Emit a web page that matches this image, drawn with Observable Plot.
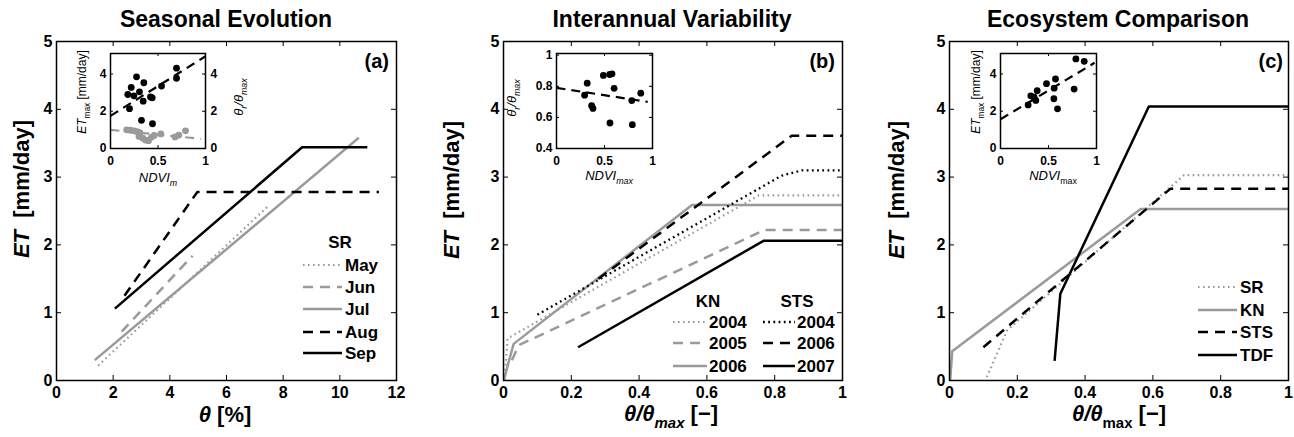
<!DOCTYPE html>
<html><head><meta charset="utf-8">
<script src="https://cdn.jsdelivr.net/npm/d3@7"></script>
<script src="https://cdn.jsdelivr.net/npm/@observablehq/plot@0.6"></script>
<style>
body{margin:0;background:#fff;}
#wrap{position:relative;width:1294px;height:437px;overflow:hidden;background:#fff;}
#wrap svg{position:absolute;overflow:visible;}
</style></head><body><div id="wrap"></div>
<script>
const FONT = '"Liberation Sans", Arial, Helvetica, sans-serif';
const GRAY = "#9a9a9a";
const BLACK = "#000";

// ---------- tick labels ----------
const etTicks = [0, 1, 2, 3, 4, 5];
const thetaTicksA = [0, 2, 4, 6, 8, 10, 12];
const relTicks = [0, 0.2, 0.4, 0.6, 0.8, 1];
const ndviTicks = [0, 0.5, 1];
const insetEtTicks = [0, 2, 4];
const insetRatioTicks = [0.4, 0.6, 0.8, 1];

// ---------- panel (a) Seasonal Evolution (SR) : [theta %, ET mm/day] ----------
const srLabels = ["May", "Jun", "Jul", "Aug", "Sep"];
const srMay = [[1.47, 0.22], [7.44, 2.56]];
const srJun = [[2.3, 0.72], [4.8, 1.84]];
const srJul = [[1.35, 0.30], [10.67, 3.58]];
const srAug = [[2.4, 1.25], [4.97, 2.78], [11.38, 2.78]];
const srSep = [[2.06, 1.06], [8.67, 3.44], [10.97, 3.44]];

// inset (a): NDVIm vs ETmax (black) and theta_r/theta_max (gray)
const insetAEtmax = [[0.274,3.85],[0.218,3.28],[0.351,3.53],[0.182,2.9],[0.305,3.04],[0.246,2.83],[0.421,2.77],[0.439,2.72],[0.344,2.54],[0.2,2.14],[0.537,3.35],[0.695,4.31],[0.695,3.77],[0.326,1.51],[0.442,1.33]];
const insetARatio = [[0.17,1.0],[0.21,0.98],[0.25,0.95],[0.28,0.9],[0.31,0.85],[0.30,0.65],[0.34,0.55],[0.37,0.45],[0.40,0.42],[0.43,0.6],[0.46,0.7],[0.53,0.78],[0.68,0.62],[0.72,0.72],[0.79,0.95]];
const insetAEtFit = [[0, 1.75], [1, 4.95]];
const insetARatioFit = [[0, 1.0], [0.95, 0.52]];

// ---------- panel (b) Interannual Variability : [theta/theta_max, ET] ----------
const kn2004 = [[0.003,0],[0.012,0.62],[0.753,2.73],[1,2.73]];
const kn2005 = [[0.025,0.3],[0.045,0.52],[0.77,2.22],[1,2.22]];
const kn2006 = [[0.002,0.02],[0.015,0.27],[0.03,0.54],[0.556,2.59],[1,2.59]];
const sts2004 = [[0.1,0.97],[0.82,3.02],[0.88,3.1],[1,3.1]];
const sts2006 = [[0.28,1.5],[0.85,3.61],[1,3.61]];
const sts2007 = [[0.22,0.49],[0.767,2.06],[1,2.06]];
const knYears = ["2004", "2005", "2006"];
const stsYears = ["2004", "2006", "2007"];

// inset (b): NDVImax vs theta_r/theta_max
const insetBRatio = [[0.32,0.82],[0.293,0.743],[0.38,0.658],[0.366,0.675],[0.488,0.87],[0.554,0.876],[0.578,0.88],[0.6,0.787],[0.557,0.564],[0.784,0.708],[0.79,0.553],[0.878,0.756]];
const insetBFit = [[0, 0.79], [0.95, 0.70]];

// ---------- panel (c) Ecosystem Comparison ----------
const ecoLabels = ["SR", "KN", "STS", "TDF"];
const ecoSR = [[0.11,0.05],[0.17,0.74],[0.692,3.03],[1,3.03]];
const ecoKN = [[0.002,0],[0.008,0.43],[0.564,2.53],[1,2.53]];
const ecoSTS = [[0.1,0.49],[0.652,2.83],[1,2.83]];
const ecoTDF = [[0.31,0.29],[0.327,1.28],[0.588,4.04],[1,4.04]];

// inset (c): NDVImax vs ETmax
const insetCEtmax = [[0.785,4.81],[0.872,4.68],[0.767,3.19],[0.573,3.73],[0.479,3.48],[0.559,3.24],[0.382,3.1],[0.316,2.83],[0.368,2.58],[0.288,2.34],[0.556,2.67],[0.594,2.13],[0.35,2.75]];
const insetCFit = [[0, 1.57], [0.98, 4.6]];

// ---------- styles ----------
const S = {
  gDot:  {stroke: GRAY, w: 2.2, dash: "1.6,3.4"},
  gDash: {stroke: GRAY, w: 2.5, dash: "10,7"},
  gSol:  {stroke: GRAY, w: 2.5, dash: null},
  kDot:  {stroke: BLACK, w: 2.3, dash: "1.8,3.4"},
  kDash: {stroke: BLACK, w: 2.5, dash: "10,7"},
  kSol:  {stroke: BLACK, w: 2.5, dash: null}
};

const wrap = document.getElementById("wrap");

function addRich(g, x, y, parts, o = {}) {
  const size = o.size || 16;
  const t = g.append("text")
    .attr("transform", `translate(${x},${y})` + (o.rotate ? ` rotate(${o.rotate})` : ""))
    .attr("text-anchor", o.anchor || "start")
    .attr("font-family", FONT)
    .attr("font-size", size)
    .attr("font-weight", o.weight || "bold")
    .attr("fill", o.fill || "#000")
    .attr("style", "white-space:pre");
  let inSub = false;
  for (const p of parts) {
    const ts = t.append("tspan").text(p.t);
    if (p.i) ts.attr("font-style", "italic");
    if (p.sub) {
      ts.attr("font-size", size * 0.68);
      if (!inSub) { ts.attr("dy", size * 0.3); inSub = true; }
    } else if (inSub) { ts.attr("dy", -size * 0.3); inSub = false; }
  }
  return t;
}

function place(svg, left, top) {
  svg.style.left = left + "px";
  svg.style.top = top + "px";
  wrap.appendChild(svg);
  return d3.select(svg).append("g").attr("transform", `translate(${-left},${-top})`);
}

function lineMark(data, st) {
  return Plot.line(data, {x: d => d[0], y: d => d[1], stroke: st.stroke, strokeWidth: st.w, strokeDasharray: st.dash, strokeLinecap: "butt"});
}

function mainPanel(cfg) {
  const H = 437, mT = 41, mB = 57;
  const fw = cfg.width - cfg.mL - cfg.mR, fh = H - mT - mB;
  const plot = Plot.plot({
    width: cfg.width, height: H,
    marginLeft: cfg.mL, marginRight: cfg.mR, marginTop: mT, marginBottom: mB,
    x: {domain: cfg.xDomain}, y: {domain: [0, 5]},
    style: {fontFamily: FONT, background: "transparent", color: "#000", overflow: "visible"},
    marks: [
      ...cfg.series.map(s => lineMark(s.data, s.st)),
      Plot.tickX(cfg.xTicks, {x: d => d, insetTop: fh - 5, stroke: BLACK}),
      Plot.tickX(cfg.xTicks, {x: d => d, insetBottom: fh - 5, stroke: BLACK}),
      Plot.tickY(etTicks, {y: d => d, insetRight: fw - 5, stroke: BLACK}),
      Plot.tickY(etTicks, {y: d => d, insetLeft: fw - 5, stroke: BLACK}),
      Plot.axisX({ticks: cfg.xTicks, tickSize: 0, tickPadding: 6, fontSize: 16, fontWeight: "bold", tickFormat: d => String(d), label: null}),
      Plot.axisY({ticks: etTicks, tickSize: 0, tickPadding: 4, fontSize: 16, fontWeight: "bold", tickFormat: d => String(d), label: null}),
      Plot.frame({stroke: BLACK, strokeWidth: 1.5})
    ]
  });
  return place(plot, cfg.left, 0);
}

function insetPanel(cfg) {
  const fw = cfg.width - cfg.mL - cfg.mR, fh = cfg.height - cfg.mT - cfg.mB;
  const marks = [
    ...cfg.marks,
    Plot.tickX(ndviTicks, {x: d => d, insetTop: fh - 3, stroke: BLACK}),
    Plot.tickX(ndviTicks, {x: d => d, insetBottom: fh - 3, stroke: BLACK}),
    Plot.tickY(cfg.yTicks, {y: d => d, insetRight: fw - 3, stroke: BLACK}),
    Plot.tickY(cfg.yTicks, {y: d => d, insetLeft: fw - 3, stroke: BLACK}),
    Plot.axisX({ticks: ndviTicks, tickSize: 0, tickPadding: 8, fontSize: 12, fontWeight: "bold", tickFormat: d => String(d), label: null}),
    Plot.axisY({ticks: cfg.yTicks, tickSize: 0, tickPadding: 4, fontSize: 12, fontWeight: "bold", tickFormat: d => String(d), label: null}),
    Plot.frame({stroke: BLACK, strokeWidth: 1.5})
  ];
  if (cfg.right) marks.push(Plot.axisY({ticks: cfg.yTicks, anchor: "right", tickSize: 0, tickPadding: 5, fontSize: 12, fontWeight: "bold", tickFormat: d => String(d), label: null}));
  const plot = Plot.plot({
    width: cfg.width, height: cfg.height,
    marginLeft: cfg.mL, marginRight: cfg.mR, marginTop: cfg.mT, marginBottom: cfg.mB,
    x: {domain: [0, 1]}, y: {domain: cfg.yDomain},
    style: {fontFamily: FONT, background: "transparent", color: "#000", overflow: "visible"},
    marks
  });
  return place(plot, cfg.left, cfg.top);
}

function legendEntry(g, x1, x2, yc, st, label, tx) {
  g.append("line").attr("x1", x1).attr("x2", x2).attr("y1", yc).attr("y2", yc)
    .attr("stroke", st.stroke).attr("stroke-width", st.w)
    .attr("stroke-dasharray", st.dash);
  addRich(g, tx, yc + 6, [{t: label}], {size: 17});
}

const etLabel = [{t: "ET", i: true}, {t: "  [mm/day]"}];
const XLAB_Y = 422;

// ===== Panel (a) =====
{
  const styles = [S.gDot, S.gDash, S.gSol, S.kDash, S.kSol];
  const datas = [srMay, srJun, srJul, srAug, srSep];
  const g = mainPanel({left: 0, width: 430, mL: 56, mR: 34, xDomain: [0, 12], xTicks: thetaTicksA,
    series: datas.map((d, i) => ({data: d, st: styles[i]}))});
  addRich(g, 226, 27, [{t: "Seasonal Evolution"}], {size: 23, anchor: "middle"});
  addRich(g, 389, 68, [{t: "(a)"}], {size: 20, anchor: "end"});
  addRich(g, 29, 189, etLabel, {size: 22, anchor: "middle", rotate: -90});
  addRich(g, 225, XLAB_Y, [{t: "θ", i: true}, {t: " [%]"}], {size: 22, anchor: "middle"});
  addRich(g, 340, 248, [{t: "SR"}], {size: 17, anchor: "middle"});
  const rows = [265, 287, 309, 332, 353];
  srLabels.forEach((lab, i) => legendEntry(g, 303, 342, rows[i], styles[i], lab, 345));

  const gi = insetPanel({left: 70, top: 45, width: 175, height: 145, mL: 40, mR: 40, mT: 8, mB: 42,
    yDomain: [0, 5.1], yTicks: insetEtTicks, right: true,
    marks: [
      lineMark(insetARatioFit, {stroke: GRAY, w: 2.2, dash: "9,6"}),
      Plot.dot(insetARatio, {x: d => d[0], y: d => d[1], r: 3.4, fill: GRAY, stroke: null}),
      lineMark(insetAEtFit, {stroke: BLACK, w: 2.2, dash: "9,6"}),
      Plot.dot(insetAEtmax, {x: d => d[0], y: d => d[1], r: 3.4, fill: BLACK, stroke: null})
    ]});
  addRich(gi, 158, 182, [{t: "NDVI", i: true}, {t: "m", i: true, sub: true}], {size: 13, weight: "normal", anchor: "middle"});
  addRich(gi, 86, 92, [{t: "ET", i: true}, {t: "max", sub: true}, {t: " [mm/day]"}], {size: 12, weight: "normal", anchor: "middle", rotate: -90});
  addRich(gi, 243, 97, [{t: "θ", i: true}, {t: "r", i: true, sub: true}, {t: "/θ", i: true}, {t: "max", i: true, sub: true}], {size: 13, weight: "normal", anchor: "middle", rotate: -90});
}

// ===== Panel (b) =====
{
  const series = [
    {data: kn2004, st: S.gDot}, {data: kn2005, st: S.gDash}, {data: kn2006, st: S.gSol},
    {data: sts2004, st: S.kDot}, {data: sts2006, st: S.kDash}, {data: sts2007, st: S.kSol}
  ];
  const g = mainPanel({left: 430, width: 430, mL: 73, mR: 18, xDomain: [0, 1], xTicks: relTicks, series});
  addRich(g, 672, 27, [{t: "Interannual Variability"}], {size: 23, anchor: "middle"});
  addRich(g, 835, 68, [{t: "(b)"}], {size: 20, anchor: "end"});
  addRich(g, 459, 190, etLabel, {size: 22, anchor: "middle", rotate: -90});
  addRich(g, 671, XLAB_Y - 1, [{t: "θ/θ", i: true}, {t: "max", i: true, sub: true}, {t: " [−]"}], {size: 22, anchor: "middle"});
  addRich(g, 708, 307, [{t: "KN"}], {size: 17, anchor: "middle"});
  addRich(g, 797, 307, [{t: "STS"}], {size: 17, anchor: "middle"});
  const rows = [322, 343, 366];
  knYears.forEach((y, i) => legendEntry(g, 673, 707, rows[i], series[i].st, y, 709));
  stsYears.forEach((y, i) => legendEntry(g, 763, 795, rows[i], series[i + 3].st, y, 797));

  const gi = insetPanel({left: 515, top: 45, width: 157, height: 145, mL: 41, mR: 20, mT: 8, mB: 42,
    yDomain: [0.4, 1.011], yTicks: insetRatioTicks,
    marks: [
      lineMark(insetBFit, {stroke: BLACK, w: 2.2, dash: "9,6"}),
      Plot.dot(insetBRatio, {x: d => d[0], y: d => d[1], r: 3.4, fill: BLACK, stroke: null})
    ]});
  addRich(gi, 609, 180, [{t: "NDVI", i: true}, {t: "max", i: true, sub: true}], {size: 13, weight: "normal", anchor: "middle"});
  addRich(gi, 516, 98, [{t: "θ", i: true}, {t: "r", i: true, sub: true}, {t: "/θ", i: true}, {t: "max", i: true, sub: true}], {size: 13, weight: "normal", anchor: "middle", rotate: -90});
}

// ===== Panel (c) =====
{
  const series = [{data: ecoSR, st: S.gDot}, {data: ecoKN, st: S.gSol}, {data: ecoSTS, st: S.kDash}, {data: ecoTDF, st: S.kSol}];
  const g = mainPanel({left: 860, width: 434, mL: 89, mR: 6, xDomain: [0, 1], xTicks: relTicks, series});
  addRich(g, 1118, 27, [{t: "Ecosystem Comparison"}], {size: 23, anchor: "middle"});
  addRich(g, 1283, 68, [{t: "(c)"}], {size: 20, anchor: "end"});
  addRich(g, 904, 190, etLabel, {size: 22, anchor: "middle", rotate: -90});
  addRich(g, 1119, XLAB_Y - 1, [{t: "θ/θ", i: true}, {t: "max", sub: true}, {t: " [−]"}], {size: 22, anchor: "middle"});
  const rows = [287, 310, 332, 355];
  ecoLabels.forEach((lab, i) => legendEntry(g, 1198, 1237, rows[i], series[i].st, lab, 1240));

  const gi = insetPanel({left: 958, top: 45, width: 158, height: 145, mL: 42, mR: 20, mT: 8, mB: 42,
    yDomain: [0, 5.1], yTicks: insetEtTicks,
    marks: [
      lineMark(insetCFit, {stroke: BLACK, w: 2.2, dash: "9,6"}),
      Plot.dot(insetCEtmax, {x: d => d[0], y: d => d[1], r: 3.4, fill: BLACK, stroke: null})
    ]});
  addRich(gi, 1053, 180, [{t: "NDVI", i: true}, {t: "max", sub: true}], {size: 13, weight: "normal", anchor: "middle"});
  addRich(gi, 980, 92, [{t: "ET", i: true}, {t: "max", sub: true}, {t: " [mm/day]"}], {size: 12, weight: "normal", anchor: "middle", rotate: -90});
}
</script></body></html>
